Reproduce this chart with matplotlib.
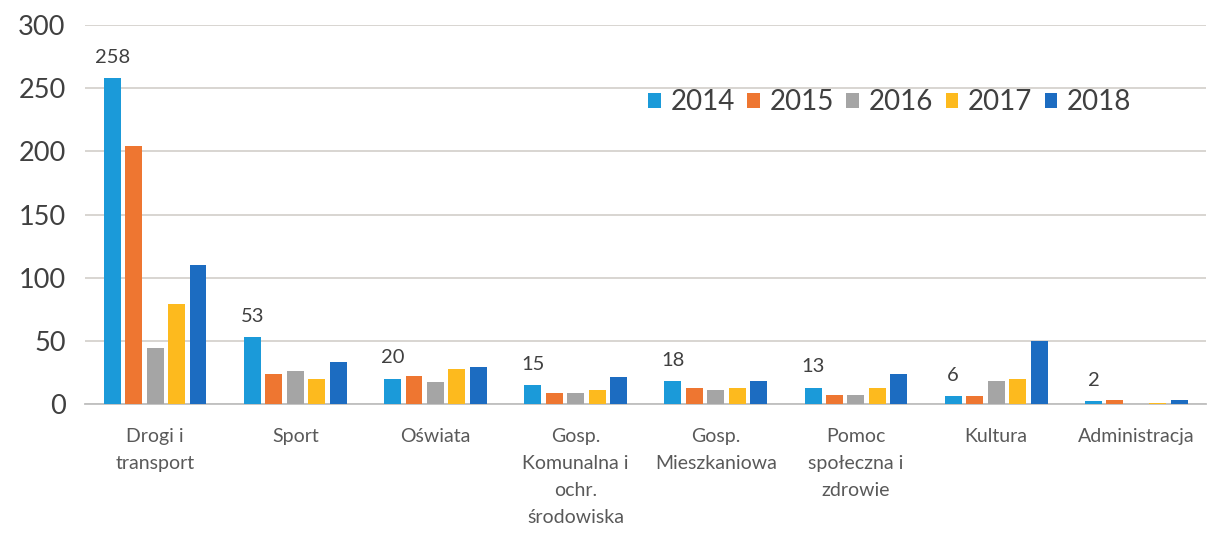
import matplotlib
matplotlib.use("Agg")
import matplotlib.pyplot as plt
import numpy as np

categories = ["Drogi i\ntransport", "Sport", "Oświata",
              "Gosp.\nKomunalna i\nochr.\nśrodowiska", "Gosp.\nMieszkaniowa",
              "Pomoc\nspołeczna i\nzdrowie", "Kultura", "Administracja"]
years = ["2014", "2015", "2016", "2017", "2018"]
v2014 = [258, 53, 20, 15, 18, 13, 6, 2]
v2015 = [204, 23.5, 22.5, 8.5, 13, 7.5, 6, 3.2]
v2016 = [44, 26, 17.5, 9, 11, 7, 18.5, 0.3]
v2017 = [79, 20, 27.5, 11, 13, 12.5, 19.5, 1]
v2018 = [110, 33.5, 29.5, 21.5, 18, 24, 50, 3]
series = [v2014, v2015, v2016, v2017, v2018]
colors = ["#1B9AD9", "#EE7631", "#A5A5A5", "#FDBA1E", "#1C6CC1"]

plt.rcParams['font.family'] = ['Lato', 'DejaVu Sans']
fig = plt.figure(figsize=(12.11, 5.51), dpi=100)
ax = fig.add_axes([0.0702, 0.2668, 0.926, 0.6878])

x = np.arange(len(categories))
step = 0.153
width = 0.121
for i, (vals, c, yr) in enumerate(zip(series, colors, years)):
    ax.bar(x + (i - 2) * step, vals, width=width, color=c, label=yr, zorder=3)

for xi, v in zip(x, v2014):
    ax.annotate(str(v), (xi - 2 * step, v), xytext=(0, 9), textcoords="offset points",
                ha="center", va="bottom", fontsize=14.5, color="#404040")

ax.set_xlim(-0.5, len(categories) - 0.5)
ax.set_ylim(0, 300)
ax.set_yticks(range(0, 301, 50))
ax.set_xticks(x)
ax.set_xticklabels(categories, fontsize=14, color="#595959", linespacing=1.72)
ax.tick_params(axis="x", length=0, pad=17)
ax.tick_params(axis="y", length=0, pad=14, labelsize=19.5, labelcolor="#404040")
ax.grid(axis="y", color="#D6D2CE", linewidth=1.3, zorder=0)
for s in ["top", "right", "left"]:
    ax.spines[s].set_visible(False)
ax.spines["bottom"].set_color("#BFBFBF")
ax.spines["bottom"].set_linewidth(1.3)

leg = ax.legend(loc="upper left", bbox_to_anchor=(0.48, 0.897), ncol=5, frameon=False,
                fontsize=20, handlelength=0.45, handleheight=0.45, handletextpad=0.35,
                columnspacing=0.45, labelcolor="#404040")

fig.savefig("out.png", dpi=100)
